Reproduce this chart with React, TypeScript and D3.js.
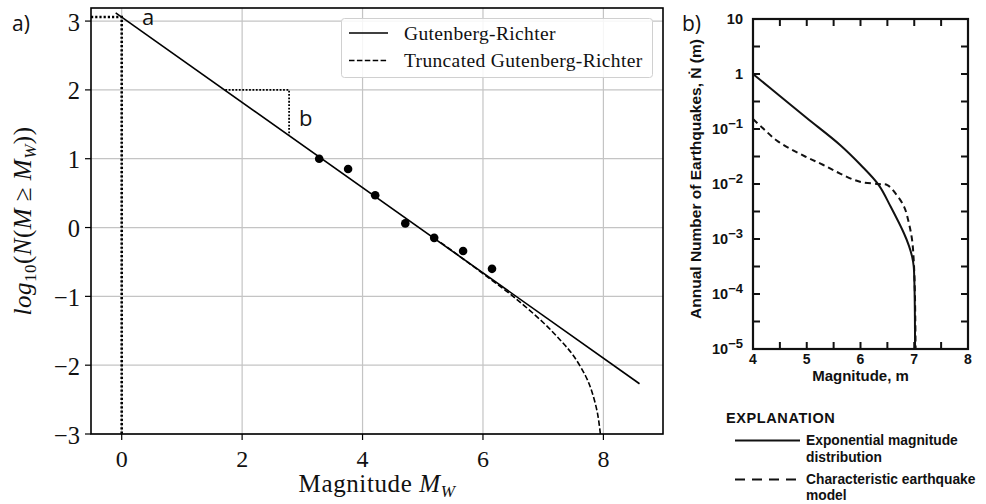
import React from "react";
import * as d3 from "d3";

// ---------- Panel a) data ----------
const GR_M = [-0.1, 8.6];
const GR_LOG = [3.12, -2.27];
const OBS_M = [3.28, 3.76, 4.21, 4.71, 5.19, 5.67, 6.15];
const OBS_LOG = [1.0, 0.85, 0.47, 0.06, -0.15, -0.34, -0.6];
const TGR_M = [5.3, 5.6, 6.0, 6.5, 7.0, 7.3, 7.5, 7.7, 7.8, 7.9, 7.95];
const TGR_LOG = [-0.22, -0.41, -0.67, -1.0, -1.38, -1.65, -1.86, -2.15, -2.36, -2.69, -3.0];
const A_POINT = [0, 3.06];
const B_TRI = [1.72, 2.78, 2.0, 1.345];
const XTICKS_A = [0, 2, 4, 6, 8];
const YTICKS_A = [-3, -2, -1, 0, 1, 2, 3];
const LEGEND_A = ["Gutenberg-Richter", "Truncated Gutenberg-Richter"];

// ---------- Panel b) data ----------
const EXP_M = [4.0, 4.5, 5.0, 5.62, 6.0, 6.34, 6.56, 6.81, 6.9, 6.96, 6.99, 7.005, 7.012, 7.015];
const EXP_LOG = [0.0, -0.4, -0.8, -1.29, -1.65, -2.02, -2.41, -2.9, -3.12, -3.32, -3.5, -3.9, -4.4, -5.0];
const CHAR_M = [4.0, 4.2, 4.47, 4.97, 5.3, 5.62, 5.99, 6.34, 6.5, 6.65, 6.81, 6.9, 6.96, 6.99, 7.01, 7.02, 7.025];
const CHAR_LOG = [-0.82, -1.0, -1.23, -1.5, -1.65, -1.81, -1.96, -2.0, -2.02, -2.17, -2.41, -2.71, -3.02, -3.38, -3.9, -4.5, -5.0];
const XTICKS_B = [4, 5, 6, 7, 8];
const XMINOR_B = [4, 4.5, 5, 5.5, 6, 6.5, 7, 7.5, 8];
const YDECADES_B = [1, 0, -1, -2, -3, -4, -5];
const YHALF_B = [0.5, -0.5, -1.5, -2.5, -3.5, -4.5];
const EXPL_TITLE = "EXPLANATION";
const EXPL_ITEMS = [["Exponential magnitude", "distribution"], ["Characteristic earthquake", "model"]];

const SERIF = "'Liberation Serif', 'Times New Roman', serif";
const SANS = "'Liberation Sans', Arial, sans-serif";
const LABEL_SANS = "'Open Sans', 'Noto Sans', sans-serif";

export default function App() {
  // Panel a scales
  const xA = d3.scaleLinear().domain([-0.51, 8.99]).range([91, 663]);
  const yA = d3.scaleLinear().domain([-3, 3.19]).range([434, 8]);
  const lineA = d3.line<[number, number]>().x((d) => xA(d[0])).y((d) => yA(d[1]));
  const curveA = d3
    .line<[number, number]>()
    .x((d) => xA(d[0]))
    .y((d) => yA(d[1]))
    .curve(d3.curveCatmullRom);
  const grPts = GR_M.map((m, i) => [m, GR_LOG[i]] as [number, number]);
  const tgrPts = TGR_M.map((m, i) => [m, TGR_LOG[i]] as [number, number]);

  // Panel b scales
  const xB = d3.scaleLinear().domain([4, 8]).range([753, 968]);
  const yB = d3.scaleLog().domain([1e-5, 10]).range([349, 19]);
  const curveB = d3
    .line<[number, number]>()
    .x((d) => xB(d[0]))
    .y((d) => yB(Math.pow(10, d[1])))
    .curve(d3.curveCatmullRom);
  const expPts = EXP_M.map((m, i) => [m, EXP_LOG[i]] as [number, number]);
  const charPts = CHAR_M.map((m, i) => [m, CHAR_LOG[i]] as [number, number]);

  const [x0, y0] = [xA.range()[0], yA.range()[1]];
  const [x1, y1] = [xA.range()[1], yA.range()[0]];
  const bx0 = xB.range()[0], bx1 = xB.range()[1];
  const by0 = yB.range()[1], by1 = yB.range()[0];

  const fmtB = (e: number) => {
    if (e === 1) return <tspan>10</tspan>;
    if (e === 0) return <tspan>1</tspan>;
    return (
      <>
        <tspan>10</tspan>
        <tspan dy={-6} fontSize={13}>{"\u2212" + Math.abs(e)}</tspan>
      </>
    );
  };

  return (
    <svg
      width={986}
      height={504}
      style={{ position: "absolute", left: 0, top: 0, background: "#fff" }}
    >
      <rect width={986} height={504} fill="#fff" />
      {/* ================= Panel a ================= */}
      <text x={12} y={31} fontFamily={LABEL_SANS} fontSize={21} fill="#111">a)</text>
      {/* grid */}
      {XTICKS_A.map((t) => (
        <line key={"gx" + t} x1={xA(t)} x2={xA(t)} y1={y0} y2={y1} stroke="#c4c4c4" strokeWidth={1.2} />
      ))}
      {YTICKS_A.map((t) => (
        <line key={"gy" + t} x1={x0} x2={x1} y1={yA(t)} y2={yA(t)} stroke="#c4c4c4" strokeWidth={1.2} />
      ))}
      {/* dotted guides */}
      <path
        d={`M${x0},${yA(A_POINT[1])}H${xA(A_POINT[0])}V${y1}`}
        fill="none"
        stroke="#000"
        strokeWidth={2.6}
        strokeDasharray="2.2,2"
      />
      <path
        d={`M${xA(B_TRI[0])},${yA(B_TRI[2])}H${xA(B_TRI[1])}V${yA(B_TRI[3])}`}
        fill="none"
        stroke="#000"
        strokeWidth={1.8}
        strokeDasharray="1.8,1.6"
      />
      {/* lines */}
      <path d={curveA(tgrPts) || ""} fill="none" stroke="#000" strokeWidth={1.6} strokeDasharray="5.5,2.4" />
      <path d={lineA(grPts) || ""} fill="none" stroke="#000" strokeWidth={1.6} />
      {OBS_M.map((m, i) => (
        <circle key={"o" + i} cx={xA(m)} cy={yA(OBS_LOG[i])} r={4.3} fill="#000" />
      ))}
      {/* annotations */}
      <text x={142} y={25} fontFamily={LABEL_SANS} fontSize={22} fill="#111">a</text>
      <text x={299} y={126} fontFamily={LABEL_SANS} fontSize={22} fill="#111">b</text>
      {/* legend */}
      <rect x={341.5} y={18.5} width={311} height={59} rx={3} fill="#fff" fillOpacity={0.85} stroke="#d0d0d0" strokeWidth={1} />
      <line x1={349} x2={388} y1={33} y2={33} stroke="#000" strokeWidth={1.6} />
      <line x1={349} x2={388} y1={60.5} y2={60.5} stroke="#000" strokeWidth={1.6} strokeDasharray="5.5,2.4" />
      {LEGEND_A.map((s, i) => (
        <text key={s} x={404} y={39.5 + i * 27.5} fontFamily={SERIF} fontSize={19.5} letterSpacing={0.35} fill="#111">{s}</text>
      ))}
      {/* frame */}
      <rect x={x0} y={y0} width={x1 - x0} height={y1 - y0} fill="none" stroke="#000" strokeWidth={1.6} />
      {/* ticks */}
      {XTICKS_A.map((t) => (
        <g key={"tx" + t}>
          <line x1={xA(t)} x2={xA(t)} y1={y1} y2={y1 + 6} stroke="#000" strokeWidth={1.2} />
          <text x={xA(t)} y={467} textAnchor="middle" fontFamily={SERIF} fontSize={24} fill="#111">{t}</text>
        </g>
      ))}
      {YTICKS_A.map((t) => (
        <g key={"ty" + t}>
          <line x1={x0 - 6} x2={x0} y1={yA(t)} y2={yA(t)} stroke="#000" strokeWidth={1.2} />
          <text x={80} y={yA(t) + 9.5} textAnchor="end" fontFamily={SERIF} fontSize={24.5} fill="#111">
            {t < 0 ? "\u2212" + Math.abs(t) : String(t)}
          </text>
        </g>
      ))}
      <text x={(x0 + x1) / 2} y={492} textAnchor="middle" fontFamily={SERIF} fontSize={25} letterSpacing={0.6} fill="#111">
        Magnitude <tspan fontStyle="italic">M</tspan>
        <tspan fontStyle="italic" fontSize={17} dy={5}>W</tspan>
      </text>
      <text
        transform={`translate(31,${(y0 + y1) / 2}) rotate(-90)`}
        textAnchor="middle"
        fontFamily={SERIF}
        fontSize={25}
        letterSpacing={0.5}
        fill="#111"
      >
        <tspan fontStyle="italic">log</tspan>
        <tspan fontSize={17} dy={5}>10</tspan>
        <tspan dy={-5}>(</tspan>
        <tspan fontStyle="italic">N</tspan>
        <tspan>(</tspan>
        <tspan fontStyle="italic">M</tspan>
        <tspan>{" \u2265 "}</tspan>
        <tspan fontStyle="italic">M</tspan>
        <tspan fontStyle="italic" fontSize={17} dy={5}>W</tspan>
        <tspan dy={-5}>))</tspan>
      </text>

      {/* ================= Panel b ================= */}
      <text x={682} y={31} fontFamily={LABEL_SANS} fontSize={21} fill="#111">b)</text>
      {/* ticks inward */}
      {XMINOR_B.map((t) => (
        <g key={"bxt" + t}>
          <line x1={xB(t)} x2={xB(t)} y1={by1} y2={by1 - 7} stroke="#111" strokeWidth={2} />
          <line x1={xB(t)} x2={xB(t)} y1={by0} y2={by0 + 7} stroke="#111" strokeWidth={2} />
        </g>
      ))}
      {[...YDECADES_B, ...YHALF_B].map((e) => (
        <g key={"byt" + e}>
          <line x1={bx0} x2={bx0 + 7} y1={yB(Math.pow(10, e))} y2={yB(Math.pow(10, e))} stroke="#111" strokeWidth={2} />
          <line x1={bx1} x2={bx1 - 7} y1={yB(Math.pow(10, e))} y2={yB(Math.pow(10, e))} stroke="#111" strokeWidth={2} />
        </g>
      ))}
      <path d={curveB(charPts) || ""} fill="none" stroke="#111" strokeWidth={2} strokeDasharray="6,4" />
      <path d={curveB(expPts) || ""} fill="none" stroke="#111" strokeWidth={2} />
      <rect x={bx0} y={by0} width={bx1 - bx0} height={by1 - by0} fill="none" stroke="#111" strokeWidth={2.2} />
      {XTICKS_B.map((t) => (
        <text key={"bxl" + t} x={xB(t)} y={364} textAnchor="middle" fontFamily={SANS} fontWeight="bold" fontSize={14} fill="#111">
          {t}
        </text>
      ))}
      {YDECADES_B.map((e) => (
        <text key={"byl" + e} x={743} y={yB(Math.pow(10, e)) + 5} textAnchor="end" fontFamily={SANS} fontWeight="bold" fontSize={14.5} fill="#111">
          {fmtB(e)}
        </text>
      ))}
      <text x={(bx0 + bx1) / 2} y={381} textAnchor="middle" fontFamily={SANS} fontWeight="bold" fontSize={15} fill="#111">
        Magnitude, m
      </text>
      <text
        transform={`translate(701,179) rotate(-90)`}
        textAnchor="middle"
        fontFamily={SANS}
        fontWeight="bold"
        fontSize={15.5}
        fill="#111"
      >
        Annual Number of Earthquakes, {"\u1E44"} (m)
      </text>
      {/* explanation */}
      <text x={726} y={423} fontFamily={SANS} fontWeight="bold" fontSize={14.5} letterSpacing={0.6} fill="#111">
        {EXPL_TITLE}
      </text>
      <line x1={735} x2={800} y1={440.5} y2={440.5} stroke="#111" strokeWidth={2} />
      <line x1={735} x2={797} y1={479.5} y2={479.5} stroke="#111" strokeWidth={2} strokeDasharray="10,7" />
      {EXPL_ITEMS.map((lines, i) => (
        <text key={"ex" + i} fontFamily={SANS} fontWeight="bold" fontSize={13.8} fill="#111">
          {lines.map((s, j) => (
            <tspan key={j} x={806} y={445 + i * 38.5 + j * 16.7}>{s}</tspan>
          ))}
        </text>
      ))}
    </svg>
  );
}
